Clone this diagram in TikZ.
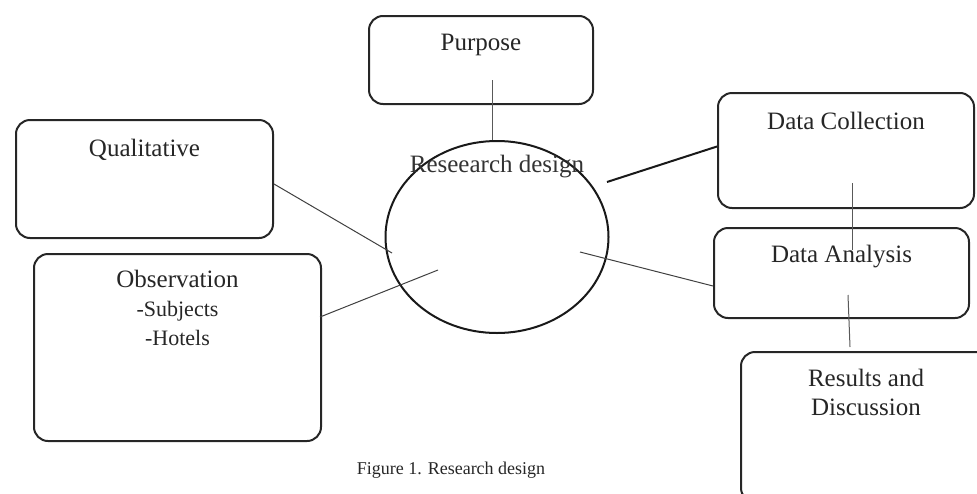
\documentclass[tikz,border=0pt]{standalone}
\usepackage{fontspec}
\setmainfont{Liberation Serif}
\usetikzlibrary{shapes.geometric}

\tikzset{
	box/.style={draw=black!85, line width=2pt, rounded corners=14pt, anchor=north west, inner sep=0pt},
	boxtext/.style={anchor=north, align=center, inner sep=0pt, text=black!85, font=\fontsize{25}{29}\selectfont},
	link/.style={draw=black!65, line width=1pt},
}
\newcommand{\itemfont}{\fontsize{22}{26}\selectfont}

\begin{document}
\begin{tikzpicture}[x=1pt, y=-1pt] % one unit = one point, y runs downwards
	\useasboundingbox (0,0) rectangle (977,493);

	% The boxes: name / left / top / width / height
	\foreach \name/\bx/\by/\bw/\bh in {purpose/368/15/224/88, quali/15/119/257/118,
		observ/33/253/287/187, collect/717/92/256/115, analysis/713/227/255/90,
		results/740/351/250/150}
	\node[box, minimum width=\bw pt, minimum height=\bh pt] (\name) at (\bx,\by) {};

	% Box titles
	\node[boxtext] (purpose-t) at ([yshift=-19pt]purpose.north) {Purpose};
	\node[boxtext] (quali-t) at ([yshift=-20pt]quali.north) {Qualitative};
	\node[boxtext] (observ-t) at ([yshift=-17pt]observ.north) {Observation\\{\itemfont -Subjects}\\{\itemfont -Hotels}};
	\node[boxtext] (collect-t) at ([yshift=-20pt]collect.north) {Data Collection};
	\node[boxtext] (analysis-t) at ([yshift=-18pt]analysis.north) {Data Analysis};
	\node[boxtext] (results-t) at ([yshift=-18pt]results.north) {Results and\\Discussion};

	% The centre ellipse
	\node[ellipse, draw=black!90, line width=2pt, minimum width=223pt, minimum height=192pt, inner sep=0pt] (design) at (497,237) {};
	\node[text=black!80, font=\fontsize{25}{29}\selectfont, inner sep=0pt] (design-t) at ([yshift=-27pt]design.north) {Reseearch design};

	% Loose ends of the connectors
	\coordinate (purpose-in) at (492,80);
	\coordinate (design-ne) at (607,182);
	\coordinate (design-e) at (580,252);
	\coordinate (design-w) at (392,253);
	\coordinate (design-sw) at (438,270);
	\coordinate (observ-e) at (320,317);
	\coordinate (collect-in) at (852,183);
	\coordinate (analysis-top) at (852,250);
	\coordinate (analysis-in) at (848,295);
	\coordinate (results-in) at (850,347);

	% Connectors
	\draw[link] (purpose-in) -- (purpose-in |- design.north);
	\draw[black!90, line width=2pt] (design-ne) -- ([yshift=4pt]collect.west);
	\draw[link, draw=black!75] (design-e) -- ([yshift=-13pt]analysis.west);
	\draw[link, draw=black!75] ([yshift=-5pt]quali.east) -- (design-w);
	\draw[link, draw=black!75] (observ-e) -- (design-sw);
	\draw[link] (collect-in) -- (analysis-top);
	\draw[link] (analysis-in) -- (results-in);

	\node[text=black!85, font=\fontsize{18}{22}\selectfont] (caption) at (451,470) {Figure 1. Research design};
\end{tikzpicture}
\end{document}
